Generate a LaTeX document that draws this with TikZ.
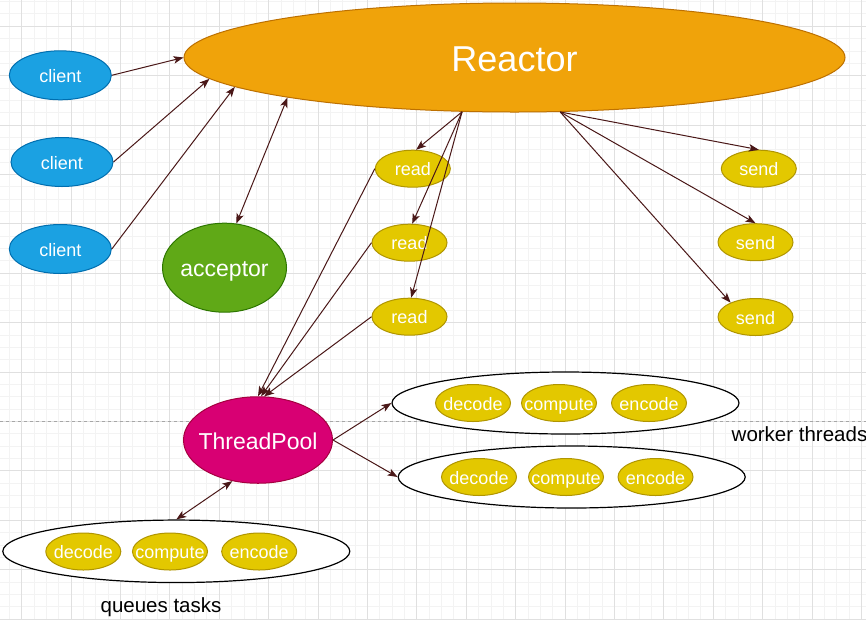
\documentclass[tikz,border=0pt]{standalone}
\usepackage{fontspec}
\setmainfont{Liberation Sans}
\usetikzlibrary{shapes.geometric,arrows.meta}
\definecolor{gridminor}{HTML}{F3F3F3}
\definecolor{gridmajor}{HTML}{E0E0E0}
\definecolor{clientfill}{HTML}{1BA1E2}
\definecolor{clientline}{HTML}{006EAF}
\definecolor{reactorfill}{HTML}{F0A30A}
\definecolor{reactorline}{HTML}{BD7000}
\definecolor{yelfill}{HTML}{E3C800}
\definecolor{yelline}{HTML}{B09500}
\definecolor{accfill}{HTML}{60A917}
\definecolor{accline}{HTML}{2D7600}
\definecolor{tpfill}{HTML}{D80073}
\definecolor{tpline}{HTML}{A50040}
\definecolor{conn}{HTML}{4A1818}
\newcommand{\ztext}[1]{\makebox[0pt][c]{\smash{#1}\rule{0pt}{0.8em}}}
\begin{document}
\begin{tikzpicture}[x=1pt,y=-1pt,
  gminor/.style={draw=gridminor,line width=0.8pt},
  gmajor/.style={draw=gridmajor,line width=0.8pt},
  base/.style={ellipse,inner sep=0pt,line width=1pt,text=white},
  small/.style={base,fill=yelfill,draw=yelline,minimum width=75pt,minimum height=37pt,font=\fontsize{18}{20}\selectfont},
  client/.style={base,fill=clientfill,draw=clientline,minimum width=102pt,minimum height=49pt,font=\fontsize{18}{20}\selectfont},
  group/.style={ellipse,inner sep=0pt,fill=white,draw=black,line width=1.2pt,minimum width=347pt,minimum height=62pt},
  label/.style={inner sep=0pt,text=black,font=\fontsize{20.5}{22}\selectfont},
  conn/.style={draw=conn,line width=1pt,-{Stealth[length=10pt,width=7.5pt,inset=2.5pt]}},
  bconn/.style={draw=conn,line width=1pt,{Stealth[length=10pt,width=7.5pt,inset=2.5pt]}-{Stealth[length=10pt,width=7.5pt,inset=2.5pt]}}
]
\useasboundingbox (0,0) rectangle (866,619);
\fill[white] (0,0) rectangle (866,619);
% grid
\foreach \i in {-2,...,69} {\draw[gminor] ({21.6+12.35*\i},0) -- ({21.6+12.35*\i},619);}
\foreach \j in {-3,...,48} {\draw[gminor] (0,{26.2+12.35*\j}) -- (866,{26.2+12.35*\j});}
\foreach \i in {0,...,17} {\draw[gmajor] ({21.6+49.4*\i},0) -- ({21.6+49.4*\i},619);}
\foreach \j in {0,...,12} {\draw[gmajor] (0,{26.2+49.4*\j}) -- (866,{26.2+49.4*\j});}
% page break line
\draw[draw=gray!70,line width=0.8pt,dash pattern=on 3pt off 3pt] (0,421.5) -- (866,421.5);

% nodes
\node[base,fill=reactorfill,draw=reactorline,minimum width=661pt,minimum height=109pt,font=\fontsize{36}{40}\selectfont] (reactor) at (514.5,57.5) {\ztext{Reactor}};
\node[client] (c1) at (60.3,75.3) {\ztext{client}};
\node[client] (c2) at (62,162) {\ztext{client}};
\node[client] (c3) at (60.3,249) {\ztext{client}};
\node[base,fill=accfill,draw=accline,minimum width=124pt,minimum height=89pt,font=\fontsize{23}{26}\selectfont] (acc) at (224.5,267.7) {\ztext{acceptor}};
\node[small] (r1) at (412.8,168.7) {\ztext{read}};
\node[small] (r2) at (409.5,242.7) {\ztext{read}};
\node[small] (r3) at (409.5,316.7) {\ztext{read}};
\node[small] (s1) at (758.8,168.7) {\ztext{send}};
\node[small] (s2) at (755.5,242.2) {\ztext{send}};
\node[small] (s3) at (755.5,317) {\ztext{send}};
\node[base,fill=tpfill,draw=tpline,minimum width=149pt,minimum height=86.5pt,font=\fontsize{23}{26}\selectfont] (tp) at (258,440) {\ztext{ThreadPool}};

\node[group] (w1) at (565.5,403) {};
\node[small] (w1a) at (473,403) {\ztext{decode}};
\node[small] (w1b) at (559,403) {\ztext{compute}};
\node[small] (w1c) at (649,403) {\ztext{encode}};
\node[group] (w2) at (571.7,477) {};
\node[small] (w2a) at (479,477) {\ztext{decode}};
\node[small] (w2b) at (566,477) {\ztext{compute}};
\node[small] (w2c) at (655.5,477) {\ztext{encode}};
\node[group,minimum height=62.5pt] (q) at (176.3,551.3) {};
\node[small] (qa) at (83.3,551.5) {\ztext{decode}};
\node[small] (qb) at (170,551.5) {\ztext{compute}};
\node[small] (qc) at (259.2,551.5) {\ztext{encode}};

\node[label,anchor=west] (wt) at (731.5,434) {worker threads};
\node[label] (qt) at (161,607) {queues tasks};

% connectors
\draw[conn] (c1.east) -- (reactor.west);
\draw[conn] (c2.east) -- (reactor.184);
\draw[conn] (c3.east) -- (reactor.186.3);
\draw[bconn] (acc.75) -- (reactor.190.2);
\draw[conn] (reactor.226) -- (r1.80);
\draw[conn] (reactor.226) -- (r2.82);
\draw[conn] (reactor.226) -- (r3.85);
\draw[conn] (reactor.310) -- (s1.north);
\draw[conn] (reactor.310) -- (s2.north);
\draw[conn] (reactor.310) -- (s3.150);
\draw[conn] (r1.west) -- (tp.north);
\draw[conn] (r2.west) -- (tp.86);
\draw[conn] (r3.west) -- (tp.82);
\draw[conn] (tp.east) -- (w1.west);
\draw[conn] (tp.east) -- (w2.west);
\draw[bconn] (q.90.5) -- (tp.238);
\end{tikzpicture}
\end{document}
